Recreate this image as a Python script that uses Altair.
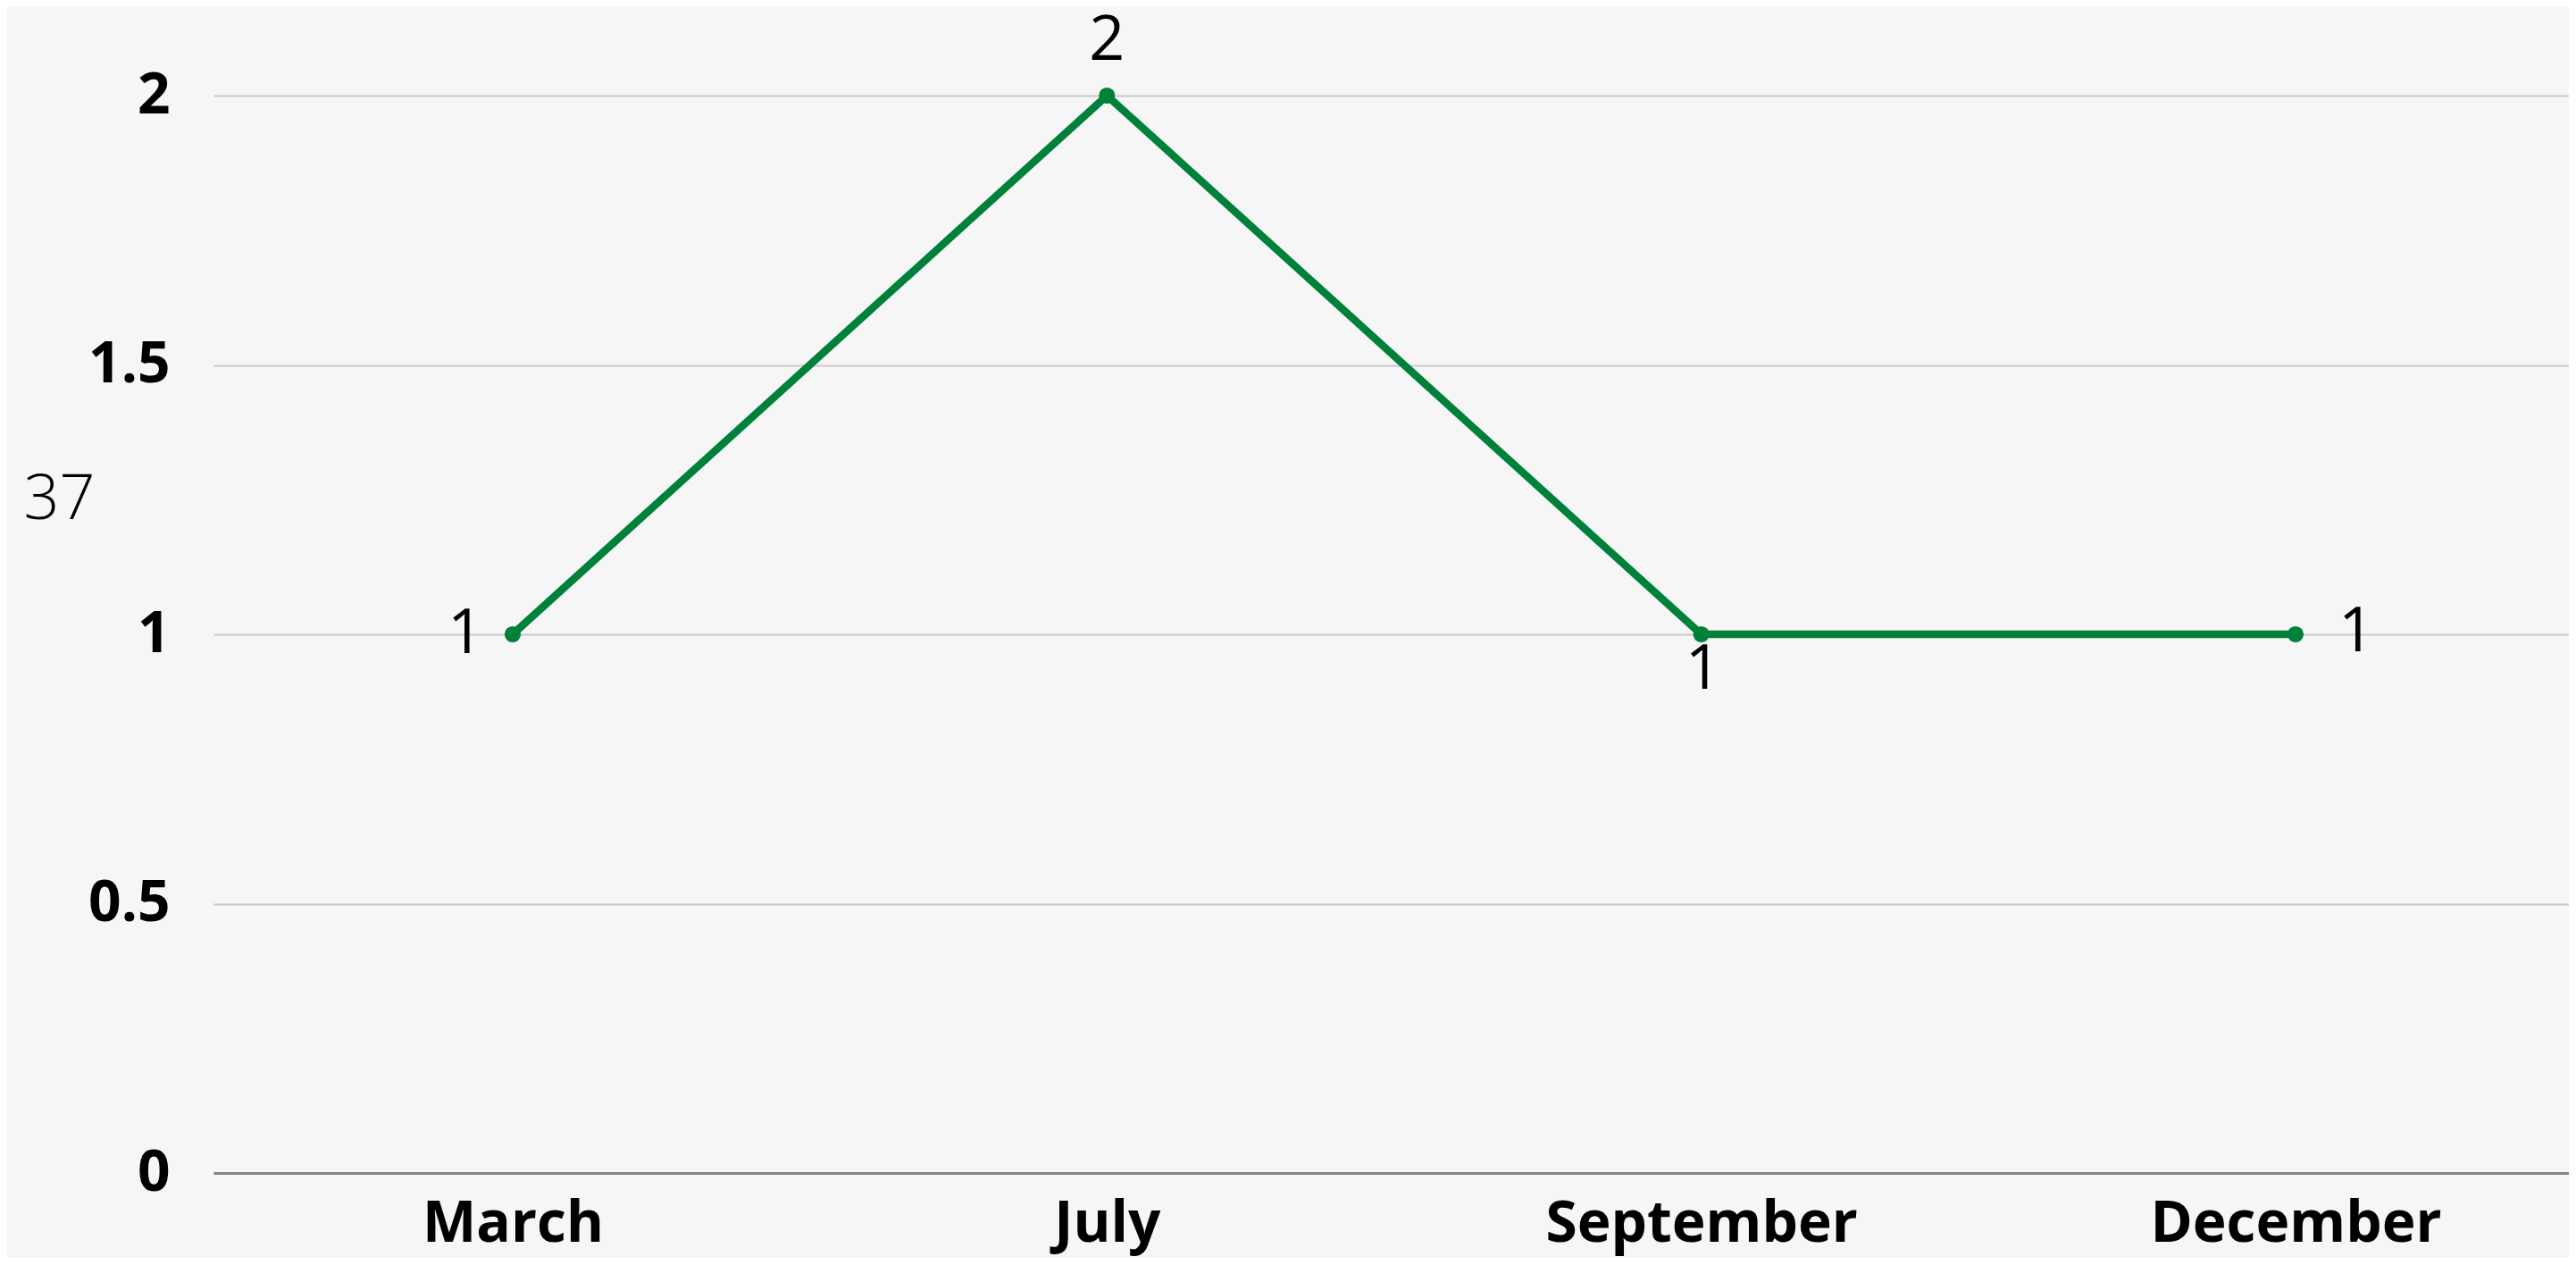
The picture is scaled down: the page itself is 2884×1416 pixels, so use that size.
import altair as alt
import pandas as pd

months = ["March", "July", "September", "December"]
values = [1, 2, 1, 1]
y_ticks = [0, 0.5, 1, 1.5, 2]
y_title = "37"

df = pd.DataFrame({"month": months, "value": values})

W, H = 2637, 1206
green = "#00813a"
font = "Open Sans"

x = alt.X(
    "month:N",
    sort=months,
    scale=alt.Scale(type="point", padding=0.4817, align=0.5226),
    axis=alt.Axis(
        title=None, labelFont=font, labelFontWeight="bold", labelFontSize=64,
        labelColor="#000000", labelAngle=0, labelBaseline="alphabetic",
        labelPadding=76, labelLimit=0, ticks=False, domain=True,
        domainColor="#858585", domainWidth=3, grid=False,
    ),
)
y = alt.Y(
    "value:Q",
    scale=alt.Scale(domain=[0, 2], nice=False, zero=True),
    axis=alt.Axis(
        values=y_ticks, format="~g", title=y_title, titleAngle=0,
        titleX=-173, titleY=452, titleAlign="center", titleBaseline="middle",
        titleFont=font, titleFontWeight=300, titleFontSize=70,
        titleColor="#000000", labelFont=font, labelFontWeight="bold",
        labelFontSize=64, labelColor="#000000", labelPadding=49, labelLimit=0,
        ticks=False, domain=False, grid=True, gridColor="#c8c8c8", gridWidth=2,
    ),
)

base = alt.Chart(df).encode(x=x, y=y)

line = base.mark_line(color=green, strokeWidth=8.5)
points = base.mark_circle(size=330, color=green, opacity=1)

def label(month, dx, dy):
    return base.transform_filter(alt.datum.month == month).mark_text(
        font=font, fontSize=70, fontWeight=400, color="#000000",
        align="center", baseline="middle", dx=dx, dy=dy,
    ).encode(text="value:Q")

chart = alt.layer(
    line, points,
    label("March", -53, 0),
    label("July", 0, -61),
    label("September", 2, 40),
    label("December", 68, -2),
).properties(
    width=W, height=H,
    background="#f6f6f6",
    padding={"left": 231, "top": 99, "right": 0, "bottom": 95},
    autosize=alt.AutoSizeParams(type="none"),
).configure_view(stroke=None)

chart.save("out.html", embed_options={"renderer": "svg", "actions": False})
